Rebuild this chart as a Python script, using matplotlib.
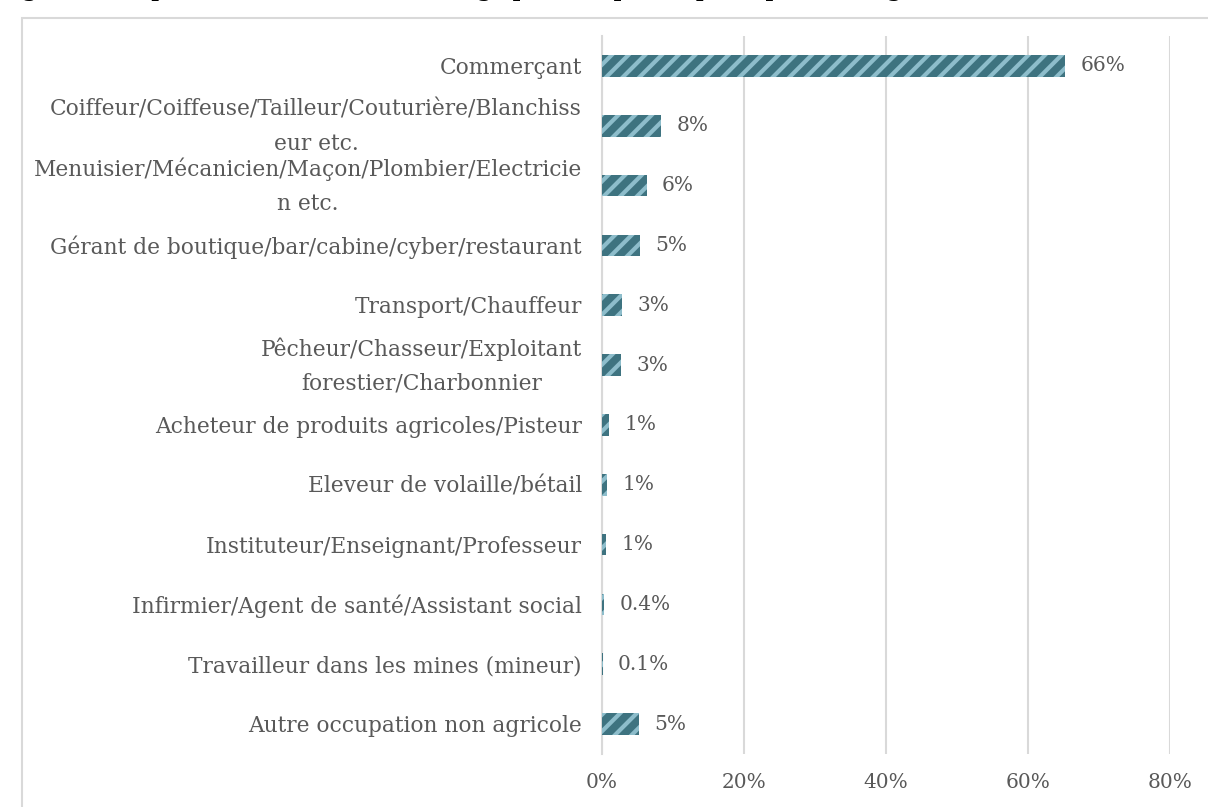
import matplotlib.pyplot as plt
import matplotlib.patches as mpatches
import matplotlib.transforms as mtransforms

# categories (top to bottom) and shares in %
categories = [
    "Commerçant",
    "Coiffeur/Coiffeuse/Tailleur/Couturière/Blanchiss\neur etc.",
    "Menuisier/Mécanicien/Maçon/Plombier/Electricie\nn etc.",
    "Gérant de boutique/bar/cabine/cyber/restaurant",
    "Transport/Chauffeur",
    "Pêcheur/Chasseur/Exploitant\nforestier/Charbonnier",
    "Acheteur de produits agricoles/Pisteur",
    "Eleveur de volaille/bétail",
    "Instituteur/Enseignant/Professeur",
    "Infirmier/Agent de santé/Assistant social",
    "Travailleur dans les mines (mineur)",
    "Autre occupation non agricole",
]
values = [65.2, 8.3, 6.3, 5.4, 2.8, 2.7, 1.0, 0.7, 0.6, 0.3, 0.1, 5.2]
value_labels = ["66%", "8%", "6%", "5%", "3%", "3%", "1%", "1%", "1%", "0.4%", "0.1%", "5%"]
x_ticks = [0, 20, 40, 60, 80]

dark = "#3E7380"
light = "#8DBDCB"
grey_txt = "#595959"
grid_col = "#D9D9D9"

plt.rcParams["font.family"] = ["DejaVu Serif"]
plt.rcParams["hatch.linewidth"] = 3.0

fig = plt.figure(figsize=(12.08, 8.07), dpi=100)
ax = fig.add_axes([602 / 1208, 1 - 754 / 807, (1170 - 602) / 1208, (754 - 36) / 807])

# chart frame (cut at right and bottom)
fig.patches.append(mpatches.Rectangle((22 / 1208, -0.1), 1.2, 1 - 18 / 807 + 0.1,
                                      transform=fig.transFigure, fill=False,
                                      edgecolor=grid_col, linewidth=1.5))

# cropped title at the very top (only the descenders show)
fig.text(0.0, 1.0 + 3 / 807, "Figure 8 : Répartition des chefs de ménage par occupation principale non agricole",
         ha="left", va="baseline", fontsize=15, fontweight="bold", color="black")

y = list(range(len(categories)))
ax.barh(y, values, height=0.36, color=dark, linewidth=0, zorder=3)
ax.barh(y, values, height=0.36, fill=False, hatch="//", edgecolor=light, linewidth=0, zorder=4)

for yi, v, lab in zip(y, values, value_labels):
    ax.annotate(lab, (v, yi), xytext=(11, 0), textcoords="offset points",
                ha="left", va="center", fontsize=14.5, color=grey_txt)

ax.set_ylim(len(categories) - 0.5, -0.5)
ax.set_xlim(0, 80)
ax.set_yticks(y)
ax.set_yticklabels([])

# category labels drawn as text next to the axis
for yi, cat in zip(y, categories):
    dy = -1 if "\n" in cat else -2
    off = mtransforms.ScaledTranslation(-20 / 100, dy / 100, fig.dpi_scale_trans)
    ax.text(0, yi, cat, transform=ax.get_yaxis_transform() + off,
            ha="right", va="center", multialignment="center", linespacing=1.7,
            fontsize=15.7, color=grey_txt)

ax.set_xticks(x_ticks)
ax.set_xticklabels([f"{t}%" for t in x_ticks], fontsize=14.5, color=grey_txt)
ax.tick_params(axis="both", length=0)
ax.tick_params(axis="x", pad=14)

ax.grid(axis="x", color=grid_col, linewidth=1.5, zorder=0)
for s in ["top", "right", "bottom"]:
    ax.spines[s].set_visible(False)
ax.spines["left"].set_color(grid_col)
ax.spines["left"].set_linewidth(1.5)

fig.savefig("out.png", dpi=100)
